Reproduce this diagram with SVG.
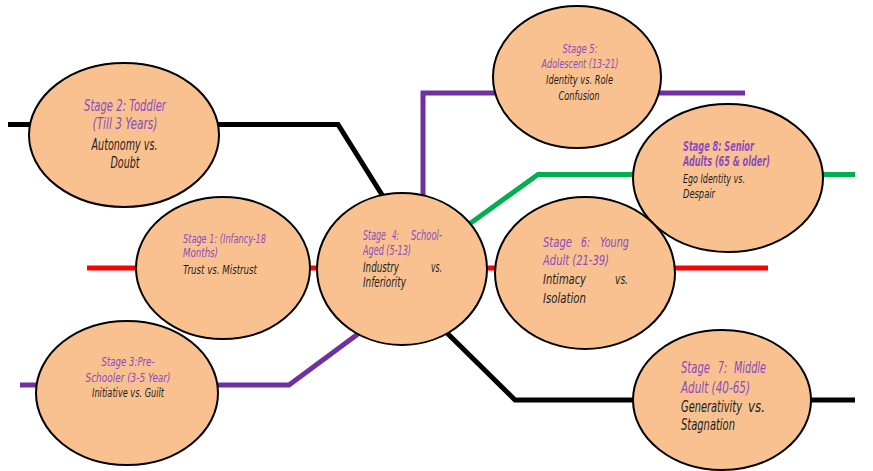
<svg xmlns="http://www.w3.org/2000/svg" width="873" height="471" viewBox="0 0 873 471">
<style>
.bg{fill:#ffffff}
.ln{fill:none;stroke-width:5;stroke-linejoin:miter}
.blk{stroke:#000000}
.red{stroke:#ff0000}
.pur{stroke:#7030a0}
.grn{stroke:#00b050}
.node ellipse{fill:#f9c18f;stroke:#000000;stroke-width:2}
text{font-family:"Liberation Sans Narrow","DejaVu Sans Condensed","Liberation Sans",sans-serif;font-style:italic}
.t{fill:#8a4cc0}
.b{fill:#1e1e1e}
.m{text-anchor:middle}
</style>
<rect class="bg" x="0" y="0" width="873" height="471"/>
<g id="connectors">
<polyline class="ln blk" points="8,124.5 338,124.5 384,198"/>
<line class="ln red" x1="87" y1="268" x2="768" y2="268"/>
<polyline class="ln pur" points="20,385 289,385 362,331"/>
<polyline class="ln pur" points="423,200 423,93 745,93"/>
<polyline class="ln grn" points="468,225 538,174.5 855,174.5"/>
<polyline class="ln blk" points="444,330 515,400 855,400"/>
</g>
<g id="stage2" class="node">
<ellipse cx="124" cy="135" rx="95" ry="72"/>
<text class="t m" font-size="15" x="125" y="111" textLength="82" lengthAdjust="spacingAndGlyphs">Stage 2: Toddler</text>
<text class="t m" font-size="15" x="125" y="129" textLength="65" lengthAdjust="spacingAndGlyphs">(Till 3 Years)</text>
<text class="b m" font-size="15" x="124.5" y="150" textLength="66" lengthAdjust="spacingAndGlyphs">Autonomy vs.</text>
<text class="b m" font-size="15" x="125" y="168" textLength="29" lengthAdjust="spacingAndGlyphs">Doubt</text>
</g>
<g id="stage1" class="node">
<ellipse cx="223" cy="268" rx="87" ry="71"/>
<text class="t" font-size="13" x="183" y="243" textLength="83" lengthAdjust="spacingAndGlyphs">Stage 1: (Infancy-18</text>
<text class="t" font-size="13" x="183" y="257" textLength="35" lengthAdjust="spacingAndGlyphs">Months)</text>
<text class="b" font-size="13" x="183" y="274" textLength="74" lengthAdjust="spacingAndGlyphs">Trust vs. Mistrust</text>
</g>
<g id="stage3" class="node">
<ellipse cx="127" cy="393" rx="91" ry="72"/>
<text class="t m" font-size="12.5" x="128" y="366" textLength="53" lengthAdjust="spacingAndGlyphs">Stage 3:Pre-</text>
<text class="t m" font-size="12.5" x="128" y="382" textLength="85" lengthAdjust="spacingAndGlyphs">Schooler (3-5 Year)</text>
<text class="b m" font-size="12.5" x="128" y="397" textLength="72" lengthAdjust="spacingAndGlyphs">Initiative vs. Guilt</text>
</g>
<g id="stage4" class="node">
<ellipse cx="402" cy="269" rx="85" ry="76"/>
<text class="t" font-size="13.5" x="363" y="240" textLength="23" lengthAdjust="spacingAndGlyphs">Stage</text>
<text class="t" font-size="13.5" x="392" y="240" textLength="7" lengthAdjust="spacingAndGlyphs">4:</text>
<text class="t" font-size="13.5" x="411" y="240" textLength="31" lengthAdjust="spacingAndGlyphs">School-</text>
<text class="t" font-size="13.5" x="363" y="255" textLength="48" lengthAdjust="spacingAndGlyphs">Aged (5-13)</text>
<text class="b" font-size="13.5" x="363" y="272" textLength="36" lengthAdjust="spacingAndGlyphs">Industry</text>
<text class="b" font-size="13.5" x="431" y="272" textLength="11" lengthAdjust="spacingAndGlyphs">vs.</text>
<text class="b" font-size="13.5" x="363" y="287" textLength="43" lengthAdjust="spacingAndGlyphs">Inferiority</text>
</g>
<g id="stage5" class="node">
<ellipse cx="577" cy="77" rx="84" ry="71"/>
<text class="t m" font-size="12.5" x="580" y="53" textLength="35" lengthAdjust="spacingAndGlyphs">Stage 5:</text>
<text class="t m" font-size="12.5" x="580" y="68" textLength="77" lengthAdjust="spacingAndGlyphs">Adolescent (13-21)</text>
<text class="b m" font-size="12.5" x="579.5" y="84" textLength="67" lengthAdjust="spacingAndGlyphs">Identity vs. Role</text>
<text class="b m" font-size="12.5" x="579" y="100" textLength="41" lengthAdjust="spacingAndGlyphs">Confusion</text>
</g>
<g id="stage8" class="node">
<ellipse cx="728" cy="178" rx="95" ry="74"/>
<text class="t" font-size="13.5" font-weight="bold" x="683" y="151" textLength="71" lengthAdjust="spacingAndGlyphs">Stage 8: Senior</text>
<text class="t" font-size="13.5" font-weight="bold" x="683" y="166" textLength="87" lengthAdjust="spacingAndGlyphs">Adults (65 &amp; older)</text>
<text class="b" font-size="13" x="683" y="183" textLength="62" lengthAdjust="spacingAndGlyphs">Ego Identity vs.</text>
<text class="b" font-size="13" x="683" y="198" textLength="32" lengthAdjust="spacingAndGlyphs">Despair</text>
</g>
<g id="stage6" class="node">
<ellipse cx="585" cy="273" rx="90" ry="76"/>
<text class="t" font-size="14.5" x="543" y="247" textLength="29" lengthAdjust="spacingAndGlyphs">Stage</text>
<text class="t" font-size="14.5" x="581" y="247" textLength="9" lengthAdjust="spacingAndGlyphs">6:</text>
<text class="t" font-size="14.5" x="600" y="247" textLength="29" lengthAdjust="spacingAndGlyphs">Young</text>
<text class="t" font-size="14.5" x="543" y="265" textLength="66" lengthAdjust="spacingAndGlyphs">Adult (21-39)</text>
<text class="b" font-size="14.5" x="543" y="284" textLength="43" lengthAdjust="spacingAndGlyphs">Intimacy</text>
<text class="b" font-size="14.5" x="615" y="284" textLength="13" lengthAdjust="spacingAndGlyphs">vs.</text>
<text class="b" font-size="14.5" x="543" y="303" textLength="43" lengthAdjust="spacingAndGlyphs">Isolation</text>
</g>
<g id="stage7" class="node">
<ellipse cx="722" cy="400" rx="89" ry="70"/>
<text class="t" font-size="15" x="681" y="373" textLength="29" lengthAdjust="spacingAndGlyphs">Stage</text>
<text class="t" font-size="15" x="718" y="373" textLength="9" lengthAdjust="spacingAndGlyphs">7:</text>
<text class="t" font-size="15" x="734" y="373" textLength="32" lengthAdjust="spacingAndGlyphs">Middle</text>
<text class="t" font-size="15" x="681" y="393" textLength="69" lengthAdjust="spacingAndGlyphs">Adult (40-65)</text>
<text class="b" font-size="15" x="681" y="412" textLength="61" lengthAdjust="spacingAndGlyphs">Generativity</text>
<text class="b" font-size="15" x="748" y="412" textLength="17" lengthAdjust="spacingAndGlyphs">vs.</text>
<text class="b" font-size="15" x="681" y="430" textLength="54" lengthAdjust="spacingAndGlyphs">Stagnation</text>
</g>
</svg>
